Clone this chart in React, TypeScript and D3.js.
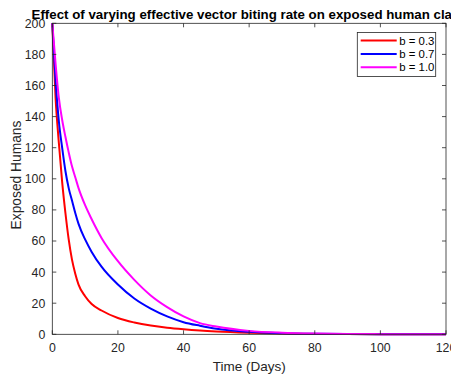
import { useEffect, useRef } from 'react';
import * as d3 from 'd3';

const days = [0, 1, 2, 3, 4, 5, 6, 7, 8, 10, 12, 15, 20, 25, 30, 35, 40, 45, 50, 60, 70, 80, 90, 100, 110, 120];
const exposedB03 = [200, 152, 123, 98, 78, 61, 48, 39, 32, 24.5, 19.5, 15.3, 10.5, 7.6, 5.6, 4.2, 3.2, 2.4, 1.8, 1.0, 0.5, 0.25, 0.12, 0.06, 0.03, 0.02];
const exposedB07 = [200, 163, 137, 120, 105, 94, 86, 78, 71, 61, 53, 43.5, 32, 23, 16.5, 11.5, 7.8, 5.5, 3.6, 1.6, 0.7, 0.3, 0.13, 0.06, 0.03, 0.01];
const exposedB10 = [200, 174, 152, 138, 127, 117, 108, 101, 94, 83, 74, 62, 47, 35, 25, 17.5, 11.5, 7.2, 5, 2.2, 1, 0.45, 0.2, 0.1, 0.05, 0.02];

const seriesLabels = ['b = 0.3', 'b = 0.7', 'b = 1.0'];
const seriesColors = ['#ff0000', '#0000ff', '#ff00ff'];
const xTicks = [0, 20, 40, 60, 80, 100, 120];
const yTicks = [0, 20, 40, 60, 80, 100, 120, 140, 160, 180, 200];

const titleText = 'Effect of varying effective vector biting rate on exposed human class';
const xLabel = 'Time (Days)';
const yLabel = 'Exposed Humans';

const W = 451;
const H = 376;
const AX = '#262626';
const FONT = '"Liberation Sans", Arial, Helvetica, sans-serif';

export default function App() {
  const svgRef = useRef<SVGSVGElement>(null);

  useEffect(() => {
    if (!svgRef.current) return;
    const svg = d3.select(svgRef.current);
    svg.selectAll('*').remove();

    const margin = { top: 23.3, right: 5, bottom: 41.7, left: 52.3 };
    const x = d3.scaleLinear().domain([0, 120]).range([margin.left, W - margin.right]);
    const y = d3.scaleLinear().domain([0, 200]).range([H - margin.bottom, margin.top]);

    svg.append('rect').attr('width', W).attr('height', H).attr('fill', '#fff');

    const series = [exposedB03, exposedB07, exposedB10];
    const line = d3.line<number>()
      .x((_, i) => x(days[i]))
      .y((d) => y(d))
      .curve(d3.curveMonotoneX);

    series.forEach((vals, i) => {
      svg.append('path')
        .datum(vals)
        .attr('fill', 'none')
        .attr('stroke', seriesColors[i])
        .attr('stroke-width', 2)
        .attr('d', line);
    });

    // axes box with inward ticks (MATLAB style)
    const x0 = x(0), x1 = x(120), y0 = y(0), y1 = y(200);
    const tl = 4;
    svg.append('rect')
      .attr('x', x0).attr('y', y1)
      .attr('width', x1 - x0).attr('height', y0 - y1)
      .attr('fill', 'none').attr('stroke', AX).attr('stroke-width', 0.8);

    xTicks.forEach((t) => {
      svg.append('line').attr('x1', x(t)).attr('x2', x(t)).attr('y1', y0).attr('y2', y0 - tl)
        .attr('stroke', AX).attr('stroke-width', 0.8);
      svg.append('line').attr('x1', x(t)).attr('x2', x(t)).attr('y1', y1).attr('y2', y1 + tl)
        .attr('stroke', AX).attr('stroke-width', 0.8);
      svg.append('text').attr('x', x(t)).attr('y', y0 + 18)
        .attr('text-anchor', 'middle').attr('font-family', FONT).attr('font-size', 12.3)
        .attr('fill', AX).text(String(t));
    });

    yTicks.forEach((t) => {
      svg.append('line').attr('x1', x0).attr('x2', x0 + tl).attr('y1', y(t)).attr('y2', y(t))
        .attr('stroke', AX).attr('stroke-width', 0.8);
      svg.append('line').attr('x1', x1).attr('x2', x1 - tl).attr('y1', y(t)).attr('y2', y(t))
        .attr('stroke', AX).attr('stroke-width', 0.8);
      svg.append('text').attr('x', x0 - 7).attr('y', y(t) + 4.4)
        .attr('text-anchor', 'end').attr('font-family', FONT).attr('font-size', 12.3)
        .attr('fill', AX).text(String(t));
    });

    svg.append('text').attr('x', (x0 + x1) / 2).attr('y', 371)
      .attr('text-anchor', 'middle').attr('font-family', FONT).attr('font-size', 13.5)
      .attr('fill', AX).text(xLabel);

    svg.append('text')
      .attr('transform', `translate(21, 175) rotate(-90)`)
      .attr('text-anchor', 'middle').attr('font-family', FONT).attr('font-size', 13.8)
      .attr('fill', AX).text(yLabel);

    svg.append('text').attr('x', (x0 + x1) / 2).attr('y', 19)
      .attr('text-anchor', 'middle').attr('font-family', FONT).attr('font-size', 13.3)
      .attr('font-weight', 'bold').attr('fill', '#000').text(titleText);

    // legend
    const lg = svg.append('g');
    lg.append('rect').attr('x', 357.3).attr('y', 32.5).attr('width', 78.4).attr('height', 44)
      .attr('fill', '#fff').attr('stroke', AX).attr('stroke-width', 0.8);
    seriesLabels.forEach((lab, i) => {
      const ry = 40.5 + i * 13.4;
      lg.append('line').attr('x1', 360.7).attr('x2', 396.7).attr('y1', ry).attr('y2', ry)
        .attr('stroke', seriesColors[i]).attr('stroke-width', 2);
      lg.append('text').attr('x', 399.3).attr('y', ry + 4.1)
        .attr('font-family', FONT).attr('font-size', 11.4).attr('fill', '#000').text(lab);
    });
  }, []);

  return (
    <svg
      ref={svgRef}
      width={W}
      height={H}
      style={{ position: 'absolute', left: 0, top: 0, display: 'block' }}
    />
  );
}
